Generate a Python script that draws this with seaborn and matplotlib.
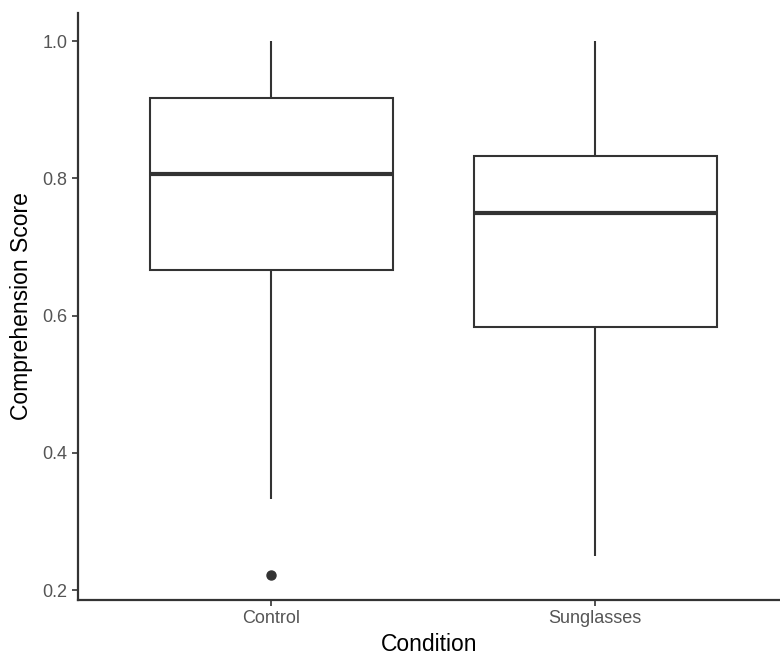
import matplotlib
matplotlib.use("Agg")
import matplotlib.pyplot as plt
import seaborn as sns
import pandas as pd

# Data (reconstructed so the box statistics match the reference)
categories = ["Control", "Sunglasses"]
control_scores = [0.222, 0.333, 0.667, 0.75, 0.806, 0.861, 0.917, 0.944, 1.0]
sunglasses_scores = [0.25, 0.5, 0.583, 0.667, 0.75, 0.8, 0.833, 0.9, 1.0]
y_ticks = [0.2, 0.4, 0.6, 0.8, 1.0]

df = pd.DataFrame({
    "Condition": [categories[0]] * len(control_scores) + [categories[1]] * len(sunglasses_scores),
    "Comprehension Score": control_scores + sunglasses_scores,
})

sns.set_theme(style="white")
plt.rcParams["font.family"] = ["Liberation Sans", "DejaVu Sans"]

fig = plt.figure(figsize=(7.8, 6.57), dpi=100)
ax = fig.add_axes([78 / 780, 1 - 600 / 657, 1 - 78 / 780, (600 - 13) / 657])

dark = "#333333"
sns.boxplot(
    data=df, x="Condition", y="Comprehension Score", order=categories,
    width=0.75, color="white", linecolor=dark, linewidth=1.5,
    whis=1.5, ax=ax,
    boxprops=dict(facecolor="white", edgecolor=dark, linewidth=1.5),
    medianprops=dict(color=dark, linewidth=3),
    whiskerprops=dict(color=dark, linewidth=1.5),
    capprops=dict(linewidth=0),
    flierprops=dict(marker="o", markersize=6.5, markerfacecolor=dark,
                    markeredgecolor=dark),
)

ax.set_xlim(-0.596, 1.571)
ax.set_ylim(0.1855, 1.041)
ax.set_yticks(y_ticks)
ax.set_yticklabels([f"{t:.1f}" for t in y_ticks])

for side in ["top", "right"]:
    ax.spines[side].set_visible(False)
for side in ["left", "bottom"]:
    ax.spines[side].set_color(dark)
    ax.spines[side].set_linewidth(1.6)

ax.tick_params(axis="both", which="both", length=4.5, width=1.2, color=dark,
               labelsize=13, labelcolor="#555555", direction="out",
               left=True, bottom=True)
ax.tick_params(axis="x", pad=3)
ax.tick_params(axis="y", pad=3)
ax.set_xlabel("Condition", fontsize=16.5, color="black", labelpad=4)
ax.set_ylabel("Comprehension Score", fontsize=16.5, color="black", labelpad=7)

fig.savefig("out.png", dpi=100, facecolor="white")
